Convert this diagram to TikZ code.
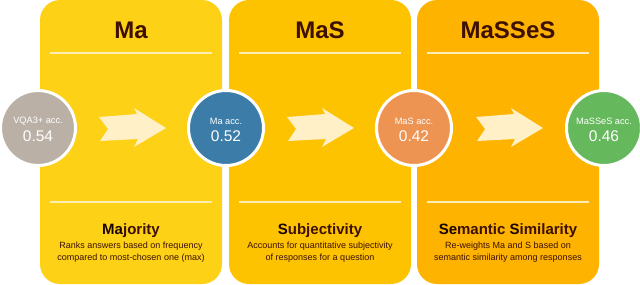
\documentclass[tikz,border=0pt]{standalone}
\usepackage{fontspec}
\setmainfont{Liberation Sans}
\usetikzlibrary{calc}

\definecolor{panela}{HTML}{FCD116}
\definecolor{panelb}{HTML}{FDC300}
\definecolor{panelc}{HTML}{FDB300}
\definecolor{accgray}{HTML}{BBB0A6}
\definecolor{accblue}{HTML}{3B7DA8}
\definecolor{accorange}{HTML}{EE9453}
\definecolor{accgreen}{HTML}{66B85D}
\definecolor{chevronfill}{HTML}{FFF0C8}
\definecolor{rulecolor}{HTML}{FEEDB4}
\definecolor{textbrown}{HTML}{3D1000}
\definecolor{acrdark}{HTML}{1A0400}

\newcommand{\acrletters}[1]{\textcolor{acrdark}{#1}}

\tikzset{
  panel/.style={rounded corners=20pt,minimum width=182pt,minimum height=284pt,inner sep=0pt},
  rule/.style={draw=rulecolor,line width=1.4pt},
  title/.style={text=textbrown,font=\fontsize{24}{28}\selectfont\bfseries},
  acc/.style={circle,draw=white,line width=3pt,minimum size=75pt,inner sep=0pt},
  acclabel/.style={text=white,font=\fontsize{9.2}{11}\selectfont,inner sep=0pt},
  accvalue/.style={text=white,font=\fontsize{15.5}{17}\selectfont,inner sep=0pt},
  chevron/.style={fill=chevronfill},
  head/.style={text=textbrown,font=\fontsize{15}{18}\selectfont\bfseries,inner sep=0pt},
  desc/.style={text=textbrown,align=center,font=\fontsize{9}{12}\selectfont,inner sep=0pt}
}

\begin{document}
\begin{tikzpicture}[x=1pt,y=-1pt]
  \useasboundingbox (0,0) rectangle (640,284);
  % panels
  \foreach \t/\col/\x[count=\i] in {Ma/panela/131,MaS/panelb/320,MaSSeS/panelc/508}
  {
    \node[panel,fill=\col] (p\i) at (\x,142) {};
    \draw[rule] ($(p\i.north west)+(10,53)$) -- ($(p\i.north east)+(-10,53)$);
    \draw[rule] ($(p\i.north west)+(10,202)$) -- ($(p\i.north east)+(-10,202)$);
    \node[title] (t\i) at (\x,30) {\t};
  }
  % accuracy circles
  \foreach \n/\v/\col/\x[count=\i] in {
    VQA3+/0.54/accgray/38,
    Ma/0.52/accblue/226,
    MaS/0.42/accorange/414,
    MaSSeS/0.46/accgreen/604%
  }
  {
    \node[acc,fill=\col] (c\i) at (\x,128) {};
    \node[acclabel] (c\i-name) at (\x,121) {\n\ acc.};
    \node[accvalue] (c\i-value) at (\x,136) {\v};
  }
  \foreach \a/\b in {1/2,2/3,3/4}
  {
    \fill[chevron,shift={($(c\a)!0.5!(c\b)$)}]
      (-33,-11) -- (5,-14) -- (2,-20) -- (34,0) -- (2,19) -- (6,11) -- (-32,13) -- (-24,1) -- cycle;
  }
  % descriptions
  \node[head] (h1) at (131,231) {\acrletters{Ma}jority};
  \node[desc] (d1) at (131,252) {Ranks answers based on frequency\\compared to most-chosen one (max)};
  \node[head] (h2) at (320,231) {\acrletters{S}ubjectivity};
  \node[desc] (d2) at (320,252) {Accounts for quantitative subjectivity\\of responses for a question};
  \node[head] (h3) at (508,231) {\acrletters{Se}mantic \acrletters{S}imilarity};
  \node[desc] (d3) at (508,252) {Re-weights Ma and S based on\\semantic similarity among responses};
\end{tikzpicture}
\end{document}
